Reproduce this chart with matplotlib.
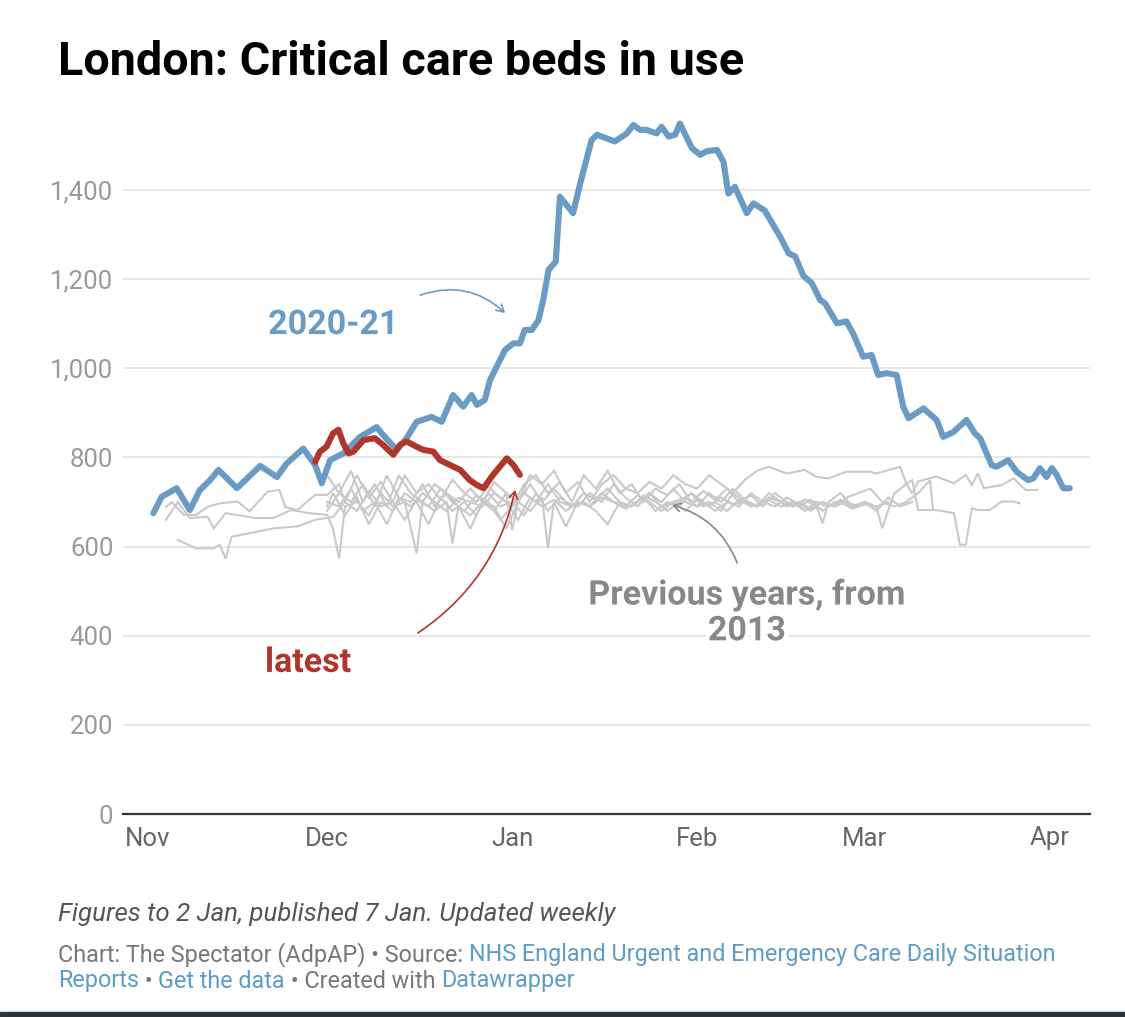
import matplotlib
matplotlib.use("Agg")
import matplotlib.pyplot as plt
import matplotlib.patheffects as pe
from matplotlib.patches import Rectangle
from matplotlib.ticker import FuncFormatter

plt.rcParams['font.family'] = ['Roboto', 'DejaVu Sans']

# ---------------- data (x = days since 1 Nov) ----------------
month_ticks = [0, 30, 61, 92, 120, 151]
month_labels = ["Nov", "Dec", "Jan", "Feb", "Mar", "Apr"]
y_ticks = [0, 200, 400, 600, 800, 1000, 1200, 1400]

days_2020 = [0.9, 2.3, 3.4, 4.8, 7.0, 8.7, 10.4, 11.8, 14.9, 18.8, 21.6, 23.2, 26.0, 28.0, 29.1,
             30.5, 32.7, 35.5, 38.3, 39.4, 41.7, 43.3, 45.0, 47.5, 49.2, 51.1, 52.8, 54.2, 55.1,
             56.4, 57.3, 59.8, 61.2, 62.3, 63.1, 64.3, 65.4, 66.2, 67.1, 68.3, 69.0, 71.2, 72.4,
             74.3, 75.2, 78.2, 80.2, 81.3, 82.4, 83.5, 85.2, 86.0, 87.2, 88.3, 89.1, 91.1, 92.5,
             93.6, 95.3, 96.4, 97.2, 98.3, 100.3, 101.4, 103.3, 105.9, 107.3, 108.4, 109.8, 111.2,
             112.6, 113.4, 115.4, 117.0, 118.1, 119.8, 121.2, 122.3, 123.7, 125.4, 126.5, 127.4,
             129.9, 132.1, 133.2, 134.9, 137.1, 138.5, 139.4, 141.3, 142.1, 144.1, 145.5, 147.4,
             148.3, 149.4, 150.5, 151.4, 152.2, 153.3, 154.4]
beds_2020 = [675, 712, 720, 731, 682, 727, 749, 772, 731, 781, 756, 786, 820, 783, 742,
             794, 809, 846, 868, 850, 817, 843, 880, 891, 880, 940, 914, 940, 918,
             929, 974, 1041, 1056, 1056, 1086, 1086, 1108, 1153, 1221, 1239, 1385, 1348, 1415,
             1512, 1524, 1509, 1527, 1546, 1535, 1535, 1527, 1542, 1520, 1524, 1549, 1494, 1479,
             1487, 1490, 1463, 1392, 1407, 1348, 1370, 1354, 1295, 1258, 1251, 1207, 1191,
             1153, 1146, 1101, 1105, 1078, 1026, 1030, 985, 989, 985, 914, 888,
             910, 884, 846, 857, 884, 854, 843, 783, 779, 794, 768, 749,
             753, 776, 756, 776, 761, 731, 731]

days_latest = [28.0, 28.8, 29.9, 31.0, 31.9, 32.7, 33.6, 34.4, 36.1, 38.0, 39.4, 41.1, 42.2,
               43.3, 45.0, 46.1, 47.8, 48.9, 50.6, 52.3, 53.9, 55.1, 56.2, 57.8, 60.1, 61.2, 62.3]
beds_latest = [790, 813, 824, 854, 862, 832, 809, 813, 839, 843, 828, 806, 828,
               836, 824, 817, 813, 794, 783, 772, 749, 738, 731, 761, 798, 783, 761]

prev_2013 = [(5, 615), (8, 596), (11, 596), (12, 604), (13, 573), (14, 622), (17, 630), (21, 641),
             (25, 645), (28, 660), (31, 667), (33, 700), (35, 680), (37, 725), (39, 690), (41, 700),
             (43, 660), (45, 705), (47, 690), (49, 730), (51, 700), (53, 680), (55, 715), (57, 700),
             (59, 660), (61, 690), (63, 720), (65, 700), (67, 740), (69, 700), (71, 690), (73, 720),
             (75, 705), (77, 730), (79, 700), (81, 690), (83, 715), (85, 700), (87, 680), (89, 700),
             (91, 720), (93, 690), (95, 700), (97, 680), (99, 705), (101, 690), (103, 700),
             (105, 710), (107, 690), (109, 700), (111, 685), (113, 700), (115, 690), (117, 700),
             (119, 690)]
prev_2014 = [(3, 689), (4, 700), (6, 671), (8, 671), (10, 689), (12, 697), (15, 701), (17, 679),
             (20, 723), (22, 727), (23, 689), (25, 682), (28, 716), (30, 716), (32, 740), (33, 700),
             (35, 760), (37, 710), (39, 745), (41, 700), (43, 760), (45, 720), (47, 740), (49, 705),
             (51, 750), (53, 720), (55, 700), (57, 735), (59, 710), (61, 690), (63, 740), (65, 760),
             (67, 720), (69, 745), (71, 700), (73, 760), (75, 730), (77, 770), (79, 720), (81, 740),
             (83, 700), (85, 730), (87, 715), (89, 740), (91, 700), (93, 725), (95, 705), (97, 730),
             (99, 700), (101, 715), (103, 690), (105, 720), (107, 700), (109, 690), (111, 705),
             (113, 680), (115, 700)]
prev_2015 = [(3, 660), (5, 700), (7, 664), (10, 667), (11, 641), (13, 675), (18, 664), (21, 664),
             (24, 682), (27, 675), (30, 671), (31, 640), (32, 573), (33, 690), (35, 700), (37, 670),
             (39, 720), (41, 690), (43, 700), (45, 585), (46, 700), (48, 680), (50, 700), (51, 607),
             (52, 690), (54, 670), (56, 700), (58, 690), (60, 640), (62, 700), (64, 680), (66, 710),
             (67, 596), (68, 700), (70, 645), (72, 700), (74, 690), (76, 720), (78, 700), (80, 690),
             (82, 715), (84, 700), (86, 680), (88, 700), (90, 710), (92, 690), (94, 700), (96, 680),
             (98, 720), (100, 700), (102, 690), (104, 705), (106, 690), (108, 700), (110, 680),
             (112, 700), (114, 690), (116, 705), (118, 690), (120, 700), (122, 690), (124, 700)]
prev_2016 = [(30, 760), (32, 720), (34, 770), (36, 700), (38, 740), (40, 690), (42, 760), (44, 720),
             (46, 700), (48, 740), (50, 720), (52, 690), (54, 640), (56, 700), (58, 745), (60, 720),
             (62, 700), (64, 760), (66, 740), (68, 770), (70, 720), (72, 745), (74, 700), (76, 740),
             (78, 760), (80, 730), (82, 720), (84, 745), (86, 730), (88, 760), (90, 740), (92, 730),
             (94, 760), (96, 740), (98, 720), (100, 750), (102, 770), (104, 779), (107, 764),
             (110, 772), (112, 756), (114, 753), (117, 768), (121, 768), (122, 764), (126, 779),
             (127, 742), (128, 719), (129, 746), (132, 757), (135, 742), (137, 761), (138, 738),
             (139, 764), (140, 731), (143, 738), (145, 753), (147, 727), (149, 727)]
prev_2017 = [(30, 700), (32, 690), (34, 730), (36, 680), (38, 700), (40, 650), (42, 710), (44, 690),
             (46, 720), (48, 700), (50, 680), (52, 710), (54, 700), (56, 690), (58, 720), (60, 700),
             (62, 660), (64, 710), (66, 690), (68, 705), (70, 680), (72, 700), (74, 690), (76, 710),
             (78, 700), (80, 685), (82, 700), (84, 720), (86, 690), (88, 700), (90, 680), (92, 705),
             (94, 690), (96, 710), (98, 695), (100, 700), (102, 690), (104, 710), (106, 700),
             (108, 690), (110, 705), (112, 700), (114, 690), (116, 700), (118, 685), (120, 695),
             (122, 689), (123, 641), (124, 682), (125, 719), (127, 740), (128, 749), (129, 682),
             (132, 682), (135, 675), (136, 604), (137, 604), (138, 686), (139, 682), (141, 682),
             (143, 701), (145, 701), (146, 697)]
prev_2018 = [(30, 680), (32, 720), (34, 700), (36, 740), (38, 690), (40, 760), (42, 710), (44, 700),
             (46, 740), (48, 690), (50, 720), (52, 700), (54, 730), (56, 700), (58, 680), (60, 720),
             (61, 637), (62, 700), (64, 740), (66, 700), (68, 730), (70, 700), (72, 690), (74, 720),
             (76, 700), (78, 740), (80, 710), (82, 690), (84, 720), (86, 700), (88, 730), (90, 700),
             (92, 690), (94, 720), (96, 700), (98, 730), (100, 705), (102, 690), (104, 720),
             (106, 700), (108, 690), (110, 705), (112, 690), (113, 652), (114, 700), (116, 720),
             (118, 690), (120, 700), (122, 680), (124, 710), (126, 690), (128, 700)]
prev_2019 = [(30, 690), (31, 720), (33, 670), (35, 710), (37, 650), (39, 700), (41, 680), (43, 720),
             (45, 700), (47, 650), (49, 710), (51, 680), (53, 700), (55, 670), (57, 720), (59, 690),
             (61, 700), (63, 670), (65, 720), (67, 680), (69, 710), (71, 690), (73, 700), (75, 680),
             (77, 650), (79, 700), (81, 690), (83, 710), (85, 680), (87, 700), (89, 690), (91, 720),
             (93, 700), (95, 680), (97, 700), (99, 690), (101, 720), (103, 700), (105, 690),
             (107, 710), (109, 695), (111, 680), (113, 700), (115, 690), (117, 710), (119, 720),
             (121, 730), (123, 700), (125, 690), (127, 700), (129, 720), (131, 749), (131.5, 682)]
previous_years = [prev_2013, prev_2014, prev_2015, prev_2016, prev_2017, prev_2018, prev_2019]

# ---------------- styling ----------------
W, H = 1125, 1017
BLUE = "#6a9bc4"
RED = "#b0352b"
GREY_LINE = "#c9c9c9"
GREY_TEXT = "#888888"
LINK = "#5d9cc5"

fig = plt.figure(figsize=(W / 100, H / 100), dpi=100)
fig.patch.set_facecolor("white")

ax_left, ax_right, ax_bottom, ax_top = 123, 1090, 814, 118.7
ax = fig.add_axes([ax_left / W, 1 - ax_bottom / H, (ax_right - ax_left) / W, (ax_bottom - ax_top) / H])
px_per_day = 5.97
ax.set_xlim(-(148 - ax_left) / px_per_day, -(148 - ax_left) / px_per_day + (ax_right - ax_left) / px_per_day)
ax.set_ylim(0, 1560)

for s in ax.spines.values():
    s.set_visible(False)
ax.set_yticks(y_ticks)
ax.yaxis.set_major_formatter(FuncFormatter(lambda v, p: f"{int(v):,}"))
ax.set_xticks(month_ticks)
ax.set_xticklabels(month_labels)
ax.tick_params(axis="y", length=0, pad=7, labelsize=18.5, labelcolor="#9a9a9a")
ax.tick_params(axis="x", length=0, pad=9, labelsize=18.5, labelcolor="#666666")
for t in y_ticks[1:]:
    ax.axhline(t, color="#e3e3e3", lw=1.2, zorder=0)
ax.axhline(0, color="#333333", lw=1.6, zorder=5, clip_on=False)

for series in previous_years:
    xs, ys = zip(*series)
    ax.plot(xs, ys, color=GREY_LINE, lw=1.5, zorder=1, solid_joinstyle="miter")

ax.plot(days_2020, beds_2020, color=BLUE, lw=4.4, zorder=3, solid_joinstyle="round", solid_capstyle="round")
ax.plot(days_latest, beds_latest, color=RED, lw=4.4, zorder=4, solid_joinstyle="round", solid_capstyle="round")

halo = [pe.withStroke(linewidth=6, foreground="white")]

ax.text(31.0, 1097, "2020-21", color=BLUE, fontsize=24.5, fontweight="bold", ha="center", va="center",
        zorder=6, path_effects=halo)
ax.annotate("", xy=(59.8, 1124), xytext=(45.6, 1164),
            arrowprops=dict(arrowstyle="->,head_length=0.5,head_width=0.3", color=BLUE, lw=1.2,
                            connectionstyle="arc3,rad=-0.3", shrinkA=0, shrinkB=0), zorder=6)

ax.text(26.8, 339, "latest", color=RED, fontsize=24.5, fontweight="bold", ha="center", va="center",
        zorder=6, path_effects=halo)
ax.annotate("", xy=(61.5, 727), xytext=(45.2, 406),
            arrowprops=dict(arrowstyle="->,head_length=0.5,head_width=0.3", color=RED, lw=1.2,
                            connectionstyle="arc3,rad=0.2", shrinkA=0, shrinkB=0), zorder=6)

ax.text(100.3, 450, "Previous years, from\n2013", color=GREY_TEXT, fontsize=24.5, fontweight="bold",
        ha="center", va="center", linespacing=1.15, zorder=6, path_effects=halo)
ax.annotate("", xy=(87.8, 693), xytext=(98.7, 563),
            arrowprops=dict(arrowstyle="->,head_length=0.5,head_width=0.3", color=GREY_TEXT, lw=1.2,
                            connectionstyle="arc3,rad=0.25", shrinkA=0, shrinkB=0), zorder=6)

# ---------------- title & footer ----------------
fig.text(58 / W, 1 - 62 / H, "London: Critical care beds in use", fontsize=33.7, fontweight="bold",
         color="black", ha="left", va="center")
fig.text(58 / W, 1 - 914 / H, "Figures to 2 Jan, published 7 Jan. Updated weekly", fontsize=18.6,
         style="italic", color="#555555", ha="left", va="center")

renderer = fig.canvas.get_renderer()


def text_width(s, size):
    t = fig.text(0, 0, s + "|", fontsize=size)
    bar = fig.text(0, 0, "|", fontsize=size)
    w = t.get_window_extent(renderer).width - bar.get_window_extent(renderer).width
    t.remove()
    bar.remove()
    return w


def draw_segments(x0, y0, segments, size):
    prefix = ""
    for s, c in segments:
        x = x0 + text_width(prefix, size) if prefix else x0
        fig.text(x / W, 1 - y0 / H, s, fontsize=size, color=c, ha="left", va="center")
        prefix += s


credit_grey = "#777777"
draw_segments(58, 955, [("Chart: The Spectator (AdpAP) • Source: ", credit_grey),
                        ("NHS England Urgent and Emergency Care Daily Situation", LINK)], 16.8)
draw_segments(58, 981, [("Reports", LINK), (" • ", credit_grey), ("Get the data", LINK),
                        (" • Created with ", credit_grey), ("Datawrapper", LINK)], 16.8)

fig.patches.append(Rectangle((0, 0), 1, 5 / H, transform=fig.transFigure, color="#2f3439", zorder=10))

fig.savefig("out.png", dpi=100)
